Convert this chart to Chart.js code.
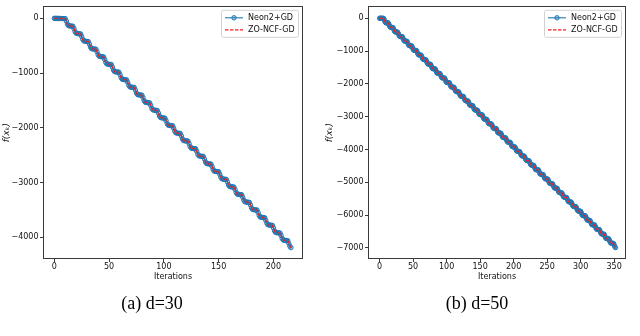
<!DOCTYPE html>
<html><head><meta charset="utf-8">
<script src="https://cdn.jsdelivr.net/npm/chart.js@4.4.0/dist/chart.umd.min.js"></script>
<style>
html,body{margin:0;padding:0;background:#fff;}
#wrap{position:relative;width:640px;height:336px;overflow:hidden;background:#fff;}
canvas{position:absolute;top:0;}
.cap{position:absolute;font-family:"Liberation Serif","Times New Roman",serif;font-size:18px;color:#000;white-space:nowrap;transform:translate(-50%,-50%);}
</style></head><body>
<div id="wrap">
<canvas id="c1" width="320" height="336" style="left:0"></canvas>
<canvas id="c2" width="320" height="336" style="left:320px"></canvas>
<div class="cap" style="left:152px;top:303px">(a) d=30</div>
<div class="cap" style="left:477px;top:303px">(b) d=50</div>
</div>
<script>
// ---- data ----
const seriesNames = ["Neon2+GD", "ZO-NCF-GD"];
const xTicksD30 = [0, 50, 100, 150, 200];
const yTicksD30 = [0, -1000, -2000, -3000, -4000];
const xTicksD50 = [0, 50, 100, 150, 200, 250, 300, 350];
const yTicksD50 = [0, -1000, -2000, -3000, -4000, -5000, -6000, -7000];

// f(x_k) per iteration, d=30 (iterations 0..216)
const neon2D30 = [0,0,-1,-1,-2,-2,-3,-3,-4,-4,
-5,-50,-105,-133,-138,-141,-143,
-145,-190,-245,-273,-278,-281,-283,
-285,-330,-385,-413,-418,-421,-423,
-425,-470,-525,-553,-558,-561,-563,
-565,-610,-665,-693,-698,-701,-703,
-705,-750,-805,-833,-838,-841,-843,
-845,-890,-945,-973,-978,-981,-983,
-985,-1030,-1085,-1113,-1118,-1121,-1123,
-1125,-1170,-1225,-1253,-1258,-1261,-1263,
-1265,-1310,-1365,-1393,-1398,-1401,-1403,
-1405,-1450,-1505,-1533,-1538,-1541,-1543,
-1545,-1590,-1645,-1673,-1678,-1681,-1683,
-1685,-1730,-1785,-1813,-1818,-1821,-1823,
-1825,-1870,-1925,-1953,-1958,-1961,-1963,
-1965,-2010,-2065,-2093,-2098,-2101,-2103,
-2105,-2150,-2205,-2233,-2238,-2241,-2243,
-2245,-2290,-2345,-2373,-2378,-2381,-2383,
-2385,-2430,-2485,-2513,-2518,-2521,-2523,
-2525,-2570,-2625,-2653,-2658,-2661,-2663,
-2665,-2710,-2765,-2793,-2798,-2801,-2803,
-2805,-2850,-2905,-2933,-2938,-2941,-2943,
-2945,-2990,-3045,-3073,-3078,-3081,-3083,
-3085,-3130,-3185,-3213,-3218,-3221,-3223,
-3225,-3270,-3325,-3353,-3358,-3361,-3363,
-3365,-3410,-3465,-3493,-3498,-3501,-3503,
-3505,-3550,-3605,-3633,-3638,-3641,-3643,
-3645,-3690,-3745,-3773,-3778,-3781,-3783,
-3785,-3830,-3885,-3913,-3918,-3921,-3923,
-3925,-3970,-4025,-4053,-4058,-4061,-4063,
-4065,-4110,-4165,-4193];
const zoncfD30 = neon2D30;

// f(x_k) per iteration, d=50 (iterations 0..352)
const neon2D50 = [0,0,-1,-2,-3,-4,
-5,-50,-105,-133,-138,-141,-143,
-145,-190,-245,-273,-278,-281,-283,
-285,-330,-385,-413,-418,-421,-423,
-425,-470,-525,-553,-558,-561,-563,
-565,-610,-665,-693,-698,-701,-703,
-705,-750,-805,-833,-838,-841,-843,
-845,-890,-945,-973,-978,-981,-983,
-985,-1030,-1085,-1113,-1118,-1121,-1123,
-1125,-1170,-1225,-1253,-1258,-1261,-1263,
-1265,-1310,-1365,-1393,-1398,-1401,-1403,
-1405,-1450,-1505,-1533,-1538,-1541,-1543,
-1545,-1590,-1645,-1673,-1678,-1681,-1683,
-1685,-1730,-1785,-1813,-1818,-1821,-1823,
-1825,-1870,-1925,-1953,-1958,-1961,-1963,
-1965,-2010,-2065,-2093,-2098,-2101,-2103,
-2105,-2150,-2205,-2233,-2238,-2241,-2243,
-2245,-2290,-2345,-2373,-2378,-2381,-2383,
-2385,-2430,-2485,-2513,-2518,-2521,-2523,
-2525,-2570,-2625,-2653,-2658,-2661,-2663,
-2665,-2710,-2765,-2793,-2798,-2801,-2803,
-2805,-2850,-2905,-2933,-2938,-2941,-2943,
-2945,-2990,-3045,-3073,-3078,-3081,-3083,
-3085,-3130,-3185,-3213,-3218,-3221,-3223,
-3225,-3270,-3325,-3353,-3358,-3361,-3363,
-3365,-3410,-3465,-3493,-3498,-3501,-3503,
-3505,-3550,-3605,-3633,-3638,-3641,-3643,
-3645,-3690,-3745,-3773,-3778,-3781,-3783,
-3785,-3830,-3885,-3913,-3918,-3921,-3923,
-3925,-3970,-4025,-4053,-4058,-4061,-4063,
-4065,-4110,-4165,-4193,-4198,-4201,-4203,
-4205,-4250,-4305,-4333,-4338,-4341,-4343,
-4345,-4390,-4445,-4473,-4478,-4481,-4483,
-4485,-4530,-4585,-4613,-4618,-4621,-4623,
-4625,-4670,-4725,-4753,-4758,-4761,-4763,
-4765,-4810,-4865,-4893,-4898,-4901,-4903,
-4905,-4950,-5005,-5033,-5038,-5041,-5043,
-5045,-5090,-5145,-5173,-5178,-5181,-5183,
-5185,-5230,-5285,-5313,-5318,-5321,-5323,
-5325,-5370,-5425,-5453,-5458,-5461,-5463,
-5465,-5510,-5565,-5593,-5598,-5601,-5603,
-5605,-5650,-5705,-5733,-5738,-5741,-5743,
-5745,-5790,-5845,-5873,-5878,-5881,-5883,
-5885,-5930,-5985,-6013,-6018,-6021,-6023,
-6025,-6070,-6125,-6153,-6158,-6161,-6163,
-6165,-6210,-6265,-6293,-6298,-6301,-6303,
-6305,-6350,-6405,-6433,-6438,-6441,-6443,
-6445,-6490,-6545,-6573,-6578,-6581,-6583,
-6585,-6630,-6685,-6713,-6718,-6721,-6723,
-6725,-6770,-6825,-6853,-6858,-6861,-6863,
-6865,-6910,-6965,-6993];
const zoncfD50 = neon2D50;

// ---- drawing ----
const FONT = "'DejaVu Sans', 'Liberation Sans', sans-serif";
const minusFmt = v => String(v).replace('-', '\u2212');

const framePlugin = {
  id: 'frameLegend',
  afterDraw(chart) {
    const ctx = chart.ctx, a = chart.chartArea;
    ctx.save();
    // axes frame (all four spines)
    ctx.strokeStyle = '#3a3a3a';
    ctx.lineWidth = 1;
    ctx.strokeRect(Math.round(a.left) + 0.5, Math.round(a.top) + 0.5,
                   Math.round(a.right) - Math.round(a.left) - 1, Math.round(a.bottom) - Math.round(a.top) - 1);
    // legend (upper right, inside axes)
    const bw = 77, bh = 27;
    const bx = a.right - 4.5 - bw, by = a.top + 4;
    ctx.beginPath();
    if (ctx.roundRect) ctx.roundRect(bx, by, bw, bh, 2); else ctx.rect(bx, by, bw, bh);
    ctx.fillStyle = 'rgba(255,255,255,0.85)';
    ctx.fill();
    ctx.strokeStyle = '#d2d2d2';
    ctx.lineWidth = 1;
    ctx.stroke();
    const ds = chart.data.datasets;
    const rows = [by + 7.5, by + 19.5];
    ds.forEach((d, i) => {
      const y = rows[i];
      const x1 = bx + 3.5, x2 = bx + 21.5;
      ctx.save();
      ctx.strokeStyle = d.borderColor;
      ctx.lineWidth = d.borderWidth;
      ctx.setLineDash(d.borderDash || []);
      ctx.beginPath(); ctx.moveTo(x1, y); ctx.lineTo(x2, y); ctx.stroke();
      ctx.setLineDash([]);
      if (d.pointRadius > 0) {
        ctx.beginPath();
        ctx.arc((x1 + x2) / 2, y, d.pointRadius, 0, Math.PI * 2);
        ctx.fillStyle = d.pointBackgroundColor;
        ctx.fill();
        ctx.lineWidth = d.pointBorderWidth;
        ctx.strokeStyle = d.pointBorderColor;
        ctx.stroke();
      }
      ctx.restore();
      ctx.fillStyle = '#111';
      ctx.font = '8px ' + FONT;
      ctx.textBaseline = 'middle';
      ctx.textAlign = 'left';
      ctx.fillText(d.label, bx + 26.5, y + 0.5);
    });
    ctx.restore();
  }
};

function makeChart(id, neon, zo, xTicks, yTicks, xMin, xMax, yMin, yMax, yAxisW, padRight, yTitlePad) {
  const pts = arr => arr.map((v, i) => ({ x: i, y: v }));
  return new Chart(document.getElementById(id), {
    type: 'line',
    data: {
      datasets: [
        { label: seriesNames[0], data: pts(neon), order: 1,
          borderColor: '#1f77b4', borderWidth: 1.1,
          pointRadius: 2.2, pointBorderWidth: 1, pointBorderColor: '#1f77b4',
          pointBackgroundColor: 'rgba(31,119,180,0.3)', tension: 0 },
        { label: seriesNames[1], data: pts(zo), order: 0,
          borderColor: '#f02020', borderWidth: 1.3, borderDash: [3.5, 1.5],
          pointRadius: 0, tension: 0 }
      ]
    },
    options: {
      responsive: false, animation: false,
      layout: { padding: { left: 0, right: padRight, top: 1, bottom: 47 } },
      plugins: { legend: { display: false }, tooltip: { enabled: false } },
      scales: {
        x: {
          type: 'linear', min: xMin, max: xMax,
          afterBuildTicks: s => { s.ticks = xTicks.map(v => ({ value: v })); },
          afterFit: s => { s.height = 30; },
          ticks: { callback: minusFmt, autoSkip: false, maxRotation: 0, padding: 0,
                   color: '#111', font: { family: FONT, size: 8 } },
          grid: { drawOnChartArea: false, drawTicks: true, tickLength: 3, color: '#3a3a3a', lineWidth: 1 },
          border: { display: false },
          title: { display: true, text: 'Iterations', color: '#111',
                   font: { family: FONT, size: 8 }, padding: { top: 0, bottom: 7.2 } }
        },
        y: {
          type: 'linear', min: yMin, max: yMax,
          afterBuildTicks: s => { s.ticks = yTicks.map(v => ({ value: v })); },
          afterFit: s => { s.width = yAxisW; },
          ticks: { callback: minusFmt, autoSkip: false, padding: 1.5,
                   color: '#111', font: { family: FONT, size: 8 } },
          grid: { drawOnChartArea: false, drawTicks: true, tickLength: 3, color: '#3a3a3a', lineWidth: 1 },
          border: { display: false },
          title: { display: true, text: 'f(x\u2096)', color: '#111',
                   font: { family: FONT, size: 9, style: 'italic' }, padding: { top: yTitlePad, bottom: 0 } }
        }
      }
    },
    plugins: [framePlugin]
  });
}

makeChart('c1', neon2D30, zoncfD30, xTicksD30, yTicksD30, -10.3, 227, -4400, 220, 43, 17, 1.6);
makeChart('c2', neon2D50, zoncfD50, xTicksD50, yTicksD50, -17.3, 367.7, -7340, 364, 48, 14, 4.6);
</script>
</body></html>
